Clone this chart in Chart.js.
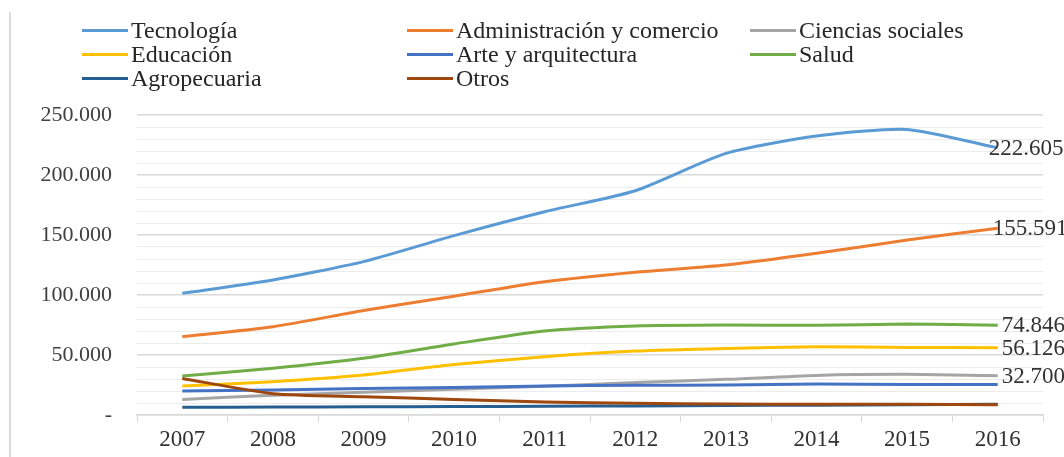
<!DOCTYPE html>
<html>
<head>
<meta charset="utf-8">
<script src="https://cdn.jsdelivr.net/npm/chart.js@4"></script>
<style>
  html, body { margin: 0; padding: 0; background: #fff; }
  #wrap { position: relative; width: 1064px; height: 457px; overflow: hidden; font-family: "Liberation Serif", "Times New Roman", serif; }
  #frame { position: absolute; left: 9px; top: 12px; bottom: 0; width: 2px; background: #dcdcdc; }
  canvas { position: absolute; left: 0; top: 0; }
  .lg { position: absolute; height: 24px; display: flex; align-items: center; white-space: nowrap; font-size: 24px; color: #262626; }
  .lg i { display: inline-block; width: 46px; height: 3px; margin-right: 3px; }
</style>
</head>
<body>
<div id="wrap">
  <div id="frame"></div>
  <canvas id="c" width="1064" height="457"></canvas>
  <div id="legend"></div>
</div>
<script>
const years = ['2007','2008','2009','2010','2011','2012','2013','2014','2015','2016'];
const seriesNames = ['Tecnología','Administración y comercio','Ciencias sociales','Educación','Arte y arquitectura','Salud','Agropecuaria','Otros'];
const tecnologia       = [101400, 112500, 127800, 149500, 169400, 186900, 218000, 232500, 238000, 222605];
const administracion   = [65300, 73600, 87000, 99000, 111000, 119000, 125000, 134700, 145800, 155591];
const cienciasSociales = [13000, 16500, 19000, 21500, 24000, 27000, 29700, 33000, 33900, 32700];
const educacion        = [24200, 27800, 33300, 42000, 48600, 53300, 55500, 56900, 56300, 56126];
const arte             = [20000, 20800, 22000, 23000, 24200, 24700, 25000, 25800, 25500, 25500];
const salud            = [32500, 38900, 47200, 59200, 70000, 74200, 75000, 74700, 75800, 74846];
const agropecuaria     = [6400, 6600, 6800, 7000, 7300, 7600, 7900, 8200, 8500, 9000];
const otros            = [30500, 17800, 15300, 13000, 10800, 9700, 9200, 8900, 8900, 8600];
const yTickLabels = { 0: '-', 50000: '50.000', 100000: '100.000', 150000: '150.000', 200000: '200.000', 250000: '250.000' };
const labeledSeries = [0, 1, 5, 3, 2];

const colors = ['#5B9BD5','#ED7D31','#A5A5A5','#FFC000','#4472C4','#70AD47','#255E91','#9E480E'];
const values = [tecnologia, administracion, cienciasSociales, educacion, arte, salud, agropecuaria, otros];

function fmt(v) {
  return String(Math.round(v)).replace(/\B(?=(\d{3})+(?!\d))/g, '.');
}

// HTML legend
const legendCols = [82, 407, 750];
const legendRows = [18, 42, 66];
const lg = document.getElementById('legend');
seriesNames.forEach((name, i) => {
  const d = document.createElement('div');
  d.className = 'lg';
  d.style.left = legendCols[i % 3] + 'px';
  d.style.top = legendRows[Math.floor(i / 3)] + 'px';
  d.innerHTML = '<i style="background:' + colors[i] + '"></i><span>' + name + '</span>';
  lg.appendChild(d);
});

const labelOffsets = { 0: -9, 1: -5, 5: 4, 3: 4, 2: 4 };
const endLabels = {
  id: 'endLabels',
  afterDatasetsDraw(chart) {
    const ctx = chart.ctx;
    ctx.save();
    ctx.font = '23px "Liberation Serif", "Times New Roman", serif';
    ctx.fillStyle = '#333333';
    ctx.textBaseline = 'middle';
    ctx.textAlign = 'left';
    labeledSeries.forEach(i => {
      const meta = chart.getDatasetMeta(i);
      const pt = meta.data[meta.data.length - 1];
      const v = chart.data.datasets[i].data[years.length - 1];
      ctx.fillText(fmt(v), pt.x + labelOffsets[i], pt.y + 1);
    });
    ctx.restore();
  }
};

new Chart(document.getElementById('c'), {
  type: 'line',
  data: {
    labels: years,
    datasets: seriesNames.map((name, i) => ({
      label: name,
      data: values[i],
      borderColor: colors[i],
      backgroundColor: colors[i],
      borderWidth: 3,
      pointRadius: 0,
      tension: 0.22,
      fill: false,
      order: seriesNames.length - i
    }))
  },
  options: {
    responsive: false,
    animation: false,
    events: [],
    layout: { padding: { top: 115, right: 21, left: 0, bottom: 0 } },
    plugins: { legend: { display: false }, tooltip: { enabled: false } },
    scales: {
      x: {
        offset: true,
        grid: { offset: true, drawOnChartArea: false, drawTicks: true, tickLength: 7, color: '#d9d9d9' },
        border: { color: '#d9d9d9', width: 1.5 },
        ticks: { color: '#333333', font: { family: '"Liberation Serif", "Times New Roman", serif', size: 23 }, padding: 4, maxRotation: 0, autoSkip: false },
        afterFit(scale) { scale.height = 42; }
      },
      y: {
        min: 0,
        max: 250000,
        grid: {
          drawTicks: false,
          color: ctx => (ctx.tick && ctx.tick.value % 50000 === 0) ? '#d9d9d9' : '#ececec',
          lineWidth: ctx => (ctx.tick && ctx.tick.value % 50000 === 0) ? 1.5 : 1
        },
        border: { display: false },
        ticks: {
          stepSize: 10000,
          autoSkip: false,
          padding: 25,
          color: '#404040',
          font: { family: '"Liberation Serif", "Times New Roman", serif', size: 22 },
          callback: v => (v in yTickLabels) ? yTickLabels[v] : ''
        },
        afterFit(scale) { scale.width = 137; }
      }
    }
  },
  plugins: [endLabels]
});
</script>
</body>
</html>
